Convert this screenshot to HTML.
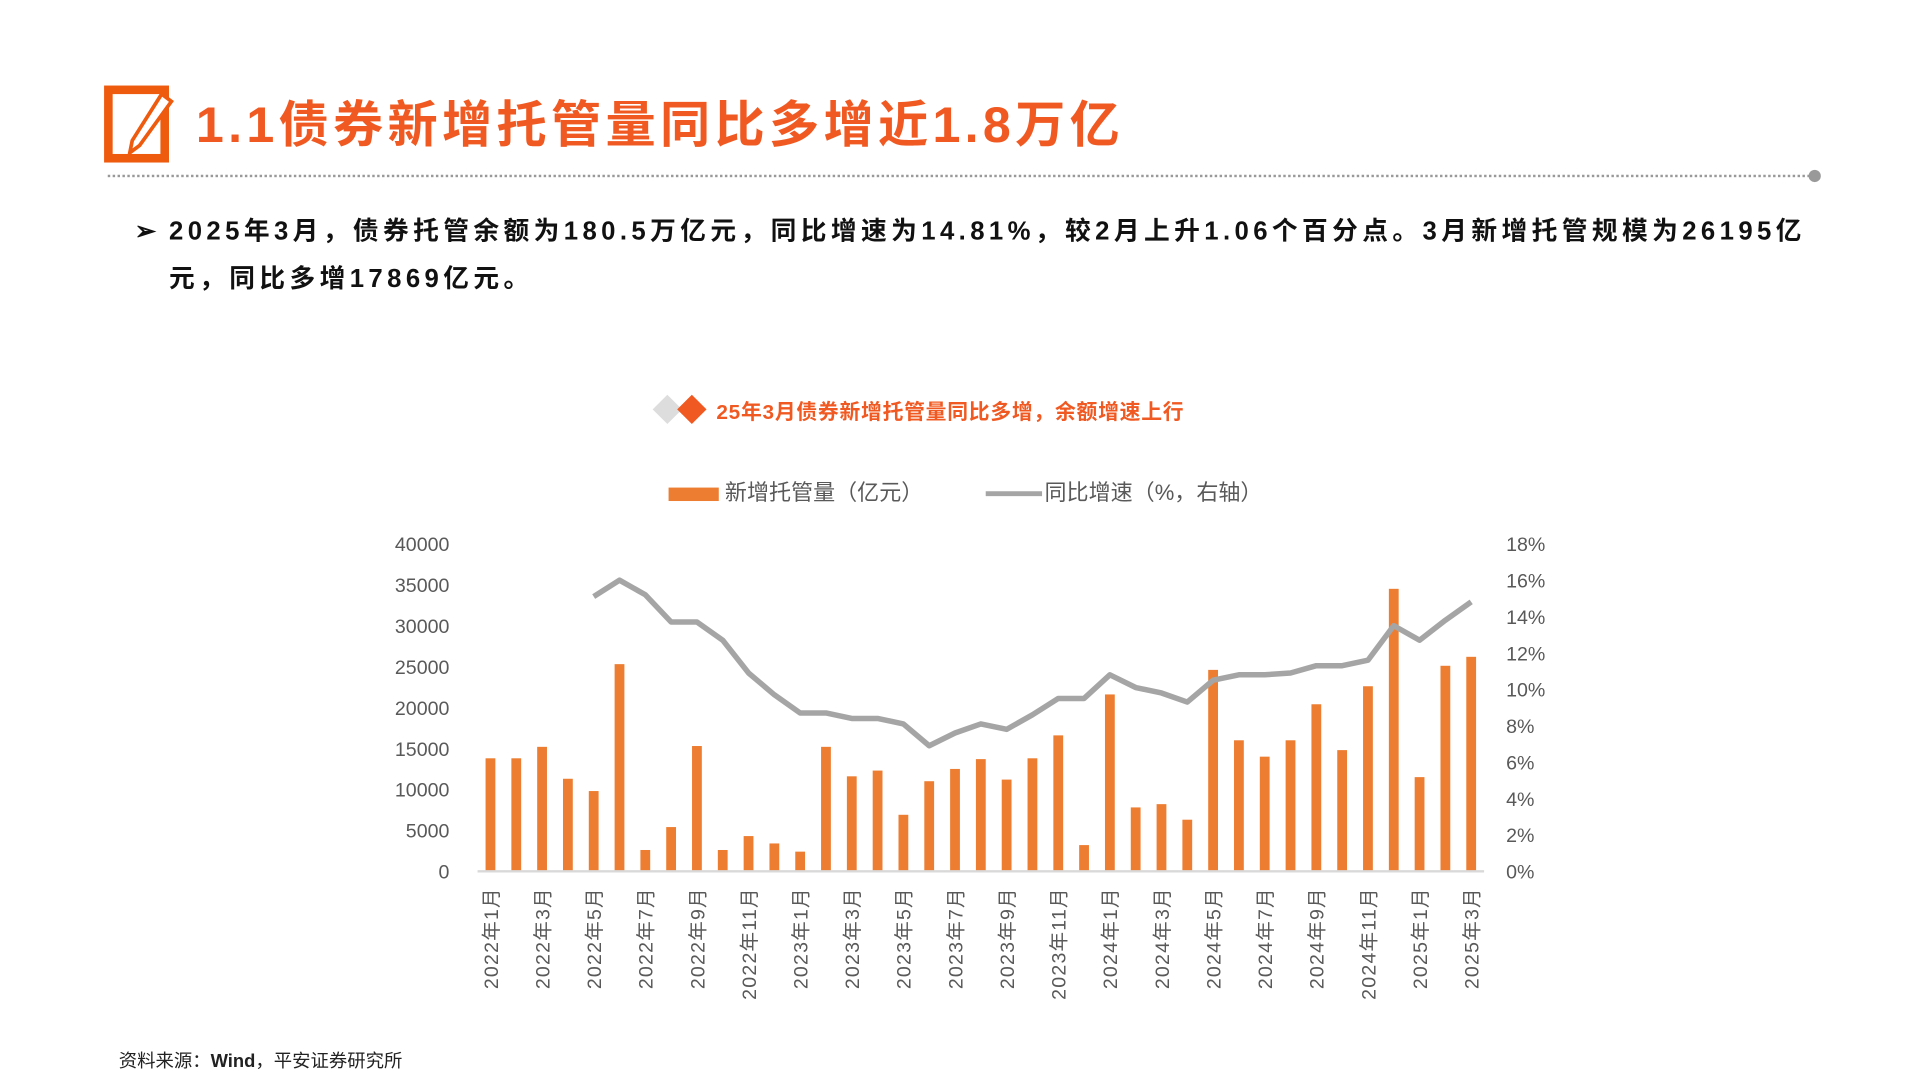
<!DOCTYPE html>
<html><head><meta charset="utf-8"><style>
html,body{margin:0;padding:0;background:#fff;width:1920px;height:1080px;overflow:hidden}
#w{position:absolute;left:0;top:0;width:1568px;height:884px;transform:scale(1.2245,1.222);transform-origin:0 0;font-family:"Liberation Sans","Noto Sans CJK SC",sans-serif}
.abs{position:absolute;white-space:nowrap}
</style></head><body><div id="w">
<svg class="abs" style="left:84px;top:69px" width="60" height="66">
<rect x="4.5" y="4.5" width="46" height="56" fill="none" stroke="#EE5A0E" stroke-width="7"/>
<polygon points="48,8 56,14 30,50 22,56 24,46" fill="#fff" stroke="#EE5A0E" stroke-width="3"/>
</svg>
<div class="abs" style="left:160px;top:68px;font-size:41px;font-weight:bold;color:#F05A22;letter-spacing:3.5px">1.1债券新增托管量同比多增近1.8万亿</div>
<div class="abs" style="left:88px;top:143px;width:1390px;border-top:2px dotted #999"></div>
<div class="abs" style="left:1477px;top:139px;width:10px;height:10px;border-radius:50%;background:#999"></div>
<div class="abs" style="left:110px;top:170px;font-size:21px;font-weight:bold;color:#111;line-height:39px;white-space:nowrap;width:1380px;letter-spacing:3.6px">
<span style="position:absolute;left:0">➢</span><div style="margin-left:28px">2025年3月，债券托管余额为180.5万亿元，同比增速为14.81%，较2月上升1.06个百分点。3月新增托管规模为26195亿<br>元，同比多增17869亿元。</div></div>
<svg class="abs" style="left:532px;top:322px" width="50" height="26">
<polygon points="13,1 25,13 13,25 1,13" fill="#ddd"/><polygon points="33,1 45,13 33,25 21,13" fill="#F05A22"/></svg>
<div class="abs" style="left:585px;top:323px;font-size:17px;font-weight:bold;color:#F05A22;letter-spacing:0.6px">25年3月债券新增托管量同比多增，余额增速上行</div>
<div class="abs" style="left:546px;top:389px;font-size:18px;color:#595959"><span style="display:inline-block;width:41px;height:11px;background:#ED7D31;vertical-align:middle;margin-right:5px"></span>新增托管量（亿元）</div>
<div class="abs" style="left:805px;top:389px;font-size:18px;color:#595959"><span style="display:inline-block;width:46px;height:4px;background:#A5A5A5;vertical-align:middle;margin-right:2px"></span>同比增速（%，右轴）</div>
<svg id="chart" class="abs" style="left:0;top:0" width="1568" height="884"></svg>
<div class="abs" style="left:97px;top:857px;font-size:15px;color:#222">资料来源：<b>Wind</b>，平安证券研究所</div>
</div>
<script>
const months=[];for(let y=2022;y<=2025;y++)for(let m=1;m<=12;m++){if(y==2025&&m>3)break;months.push(y+'年'+m+'月');}
const barValues=[13800,13800,15200,11300,9800,25300,2600,5400,15300,2600,4300,3400,2400,15200,11600,12300,6900,11000,12500,13700,11200,13800,16600,3200,21600,7800,8200,6300,24600,16000,14000,16000,20400,14800,22600,34500,11500,25100,26195];
const lineStart=4;
const lineValues=[15.1,16.0,15.2,13.7,13.7,12.7,10.9,9.7,8.7,8.7,8.4,8.4,8.1,6.9,7.6,8.1,7.8,8.6,9.5,9.5,10.8,10.1,9.8,9.3,10.5,10.8,10.8,10.9,11.3,11.3,11.6,13.5,12.7,13.8,14.81];
const leftTicks=[0,5000,10000,15000,20000,25000,30000,35000,40000];
const rightTicks=[0,2,4,6,8,10,12,14,16,18];
const svg=document.getElementById('chart');const NS='http://www.w3.org/2000/svg';
const y0=713,y1=445,xL=390,xR=1212;
const yL=v=>y0-(v/40000)*(y0-y1);const yR=v=>y0-(v/18)*(y0-y1);
const step=(xR-xL)/months.length;const xC=i=>xL+step*(i+0.5);
function mk(t,a){const e=document.createElementNS(NS,t);for(const k in a)e.setAttribute(k,a[k]);svg.appendChild(e);return e;}
leftTicks.forEach(v=>{const t=mk('text',{x:367,y:yL(v)+6,'text-anchor':'end','font-size':16,fill:'#595959'});t.textContent=v;

});
rightTicks.forEach(v=>{const t=mk('text',{x:1230,y:yR(v)+6,'font-size':16,fill:'#595959'});t.textContent=v+'%';

});
barValues.forEach((v,i)=>{const r=mk('rect',{x:xC(i)-4,y:yL(v),width:8,height:y0-yL(v),fill:'#ED7D31'});

});
const ax=mk('line',{x1:xL,x2:xR,y1:y0,y2:y0,stroke:'#D9D9D9','stroke-width':2});


const pts=lineValues.map((v,i)=>xC(i+lineStart)+','+yR(v)).join(' ');
const pl=mk('polyline',{points:pts,fill:'none',stroke:'#A5A5A5','stroke-width':4.5,'stroke-linejoin':'round'});


months.forEach((m,i)=>{if(i%2)return;const x=xC(i)+6;const t=mk('text',{x:x,y:726,transform:`rotate(-90 ${x} 726)`,'text-anchor':'end','font-size':16,fill:'#595959','letter-spacing':1});t.textContent=m;

});
</script>
</body></html>
